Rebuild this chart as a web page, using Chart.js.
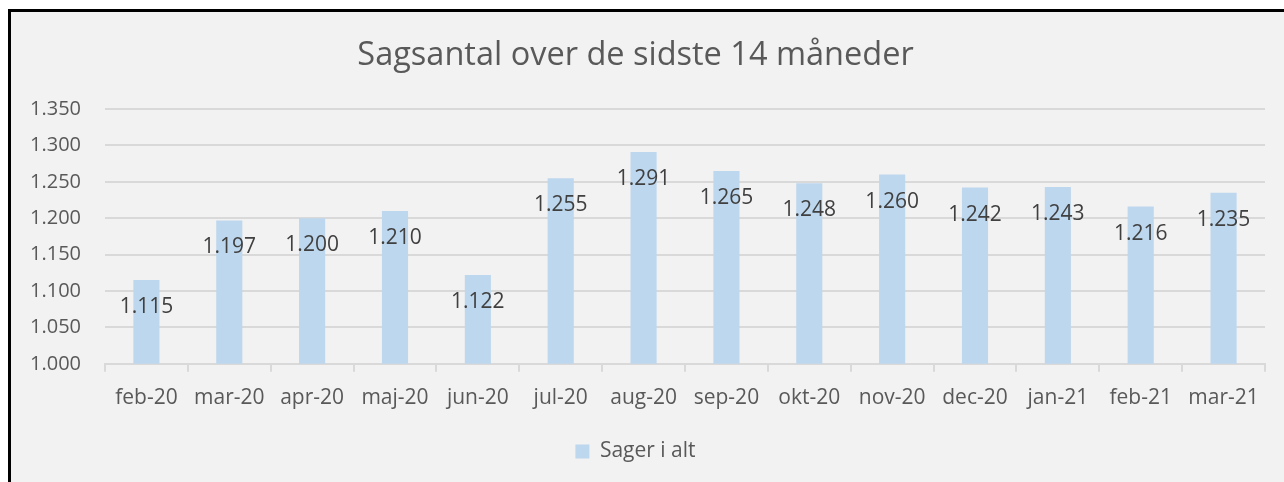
<!DOCTYPE html>
<html>
<head>
<meta charset="utf-8">
<script src="https://cdn.jsdelivr.net/npm/chart.js@4.4.1/dist/chart.umd.min.js"></script>
<style>
  html, body { margin: 0; padding: 0; background: #ffffff; overflow: hidden; }
  #frame {
    position: absolute; left: 8px; top: 9px; width: 1300px; height: 500px;
    border: 3px solid #000; background: #f2f2f2;
  }
  #wrap { position: absolute; left: 0; top: 0; width: 1284px; height: 482px; }
</style>
</head>
<body>
<div id="frame"></div>
<div id="wrap"><canvas id="chart"></canvas></div>
<script>
const months = ["feb-20", "mar-20", "apr-20", "maj-20", "jun-20", "jul-20", "aug-20",
    "sep-20", "okt-20", "nov-20", "dec-20", "jan-21", "feb-21", "mar-21"];
const cases = [1115, 1197, 1200, 1210, 1122, 1255, 1291, 1265, 1248, 1260, 1242, 1243, 1216, 1235];
const yMin = 1000;
const yMax = 1350;
const yStep = 50;

const fontFamily = "'Open Sans', 'Liberation Sans', sans-serif";
const fmt = (v) => v.toLocaleString("da-DK");

// simple value labels just under the top of each bar
const barLabels = {
    id: "barLabels",
    afterDatasetsDraw(chart) {
        const ctx = chart.ctx;
        const meta = chart.getDatasetMeta(0);
        ctx.save();
        ctx.font = "21px " + fontFamily;
        ctx.fillStyle = "#404040";
        ctx.textAlign = "center";
        ctx.textBaseline = "middle";
        meta.data.forEach((bar, i) => {
            const p = bar.getProps(["x", "y"], true);
            ctx.fillText(fmt(cases[i]), p.x, p.y + 27);
        });
        ctx.restore();
    }
};

const chartEl = document.getElementById("chart");
const caseChart = new Chart(chartEl, {
    type: "bar",
    data: {
        labels: months,
        datasets: [
            {
                label: "Sager i alt",
                data: cases,
                backgroundColor: "#bdd7ee",
                categoryPercentage: 1,
                barPercentage: 0.315,
            },
        ],
    },
    options: {
        responsive: true,
        maintainAspectRatio: false,
        animation: false,
        layout: {
            padding: { left: 6, right: 19, top: 36, bottom: 10 }
        },
        plugins: {
            title: {
                display: true,
                text: "Sagsantal over de sidste 14 måneder",
                color: "#595959",
                font: { family: fontFamily, size: 32.5, weight: "normal" },
                padding: { top: 0, bottom: 34 }
            },
            legend: {
                position: "bottom",
                labels: {
                    color: "#595959",
                    font: { family: fontFamily, size: 21 },
                    boxWidth: 14,
                    boxHeight: 14,
                    padding: 16
                }
            },
            tooltip: { enabled: false }
        },
        scales: {
            x: {
                grid: {
                    drawOnChartArea: false,
                    drawTicks: true,
                    tickLength: 8,
                    color: "#d9d9d9",
                    lineWidth: 2
                },
                border: { color: "#d9d9d9", width: 2 },
                ticks: {
                    color: "#595959",
                    font: { family: fontFamily, size: 21 },
                    maxRotation: 0,
                    autoSkip: false,
                    padding: 14
                }
            },
            y: {
                min: yMin,
                max: yMax,
                grid: { color: "#d9d9d9", lineWidth: 2, drawTicks: false },
                border: { display: false },
                ticks: {
                    stepSize: yStep,
                    color: "#595959",
                    font: { family: fontFamily, size: 20 },
                    padding: 24,
                    callback: (v) => fmt(v)
                }
            }
        }
    },
    plugins: [barLabels]
});
</script>
</body>
</html>
